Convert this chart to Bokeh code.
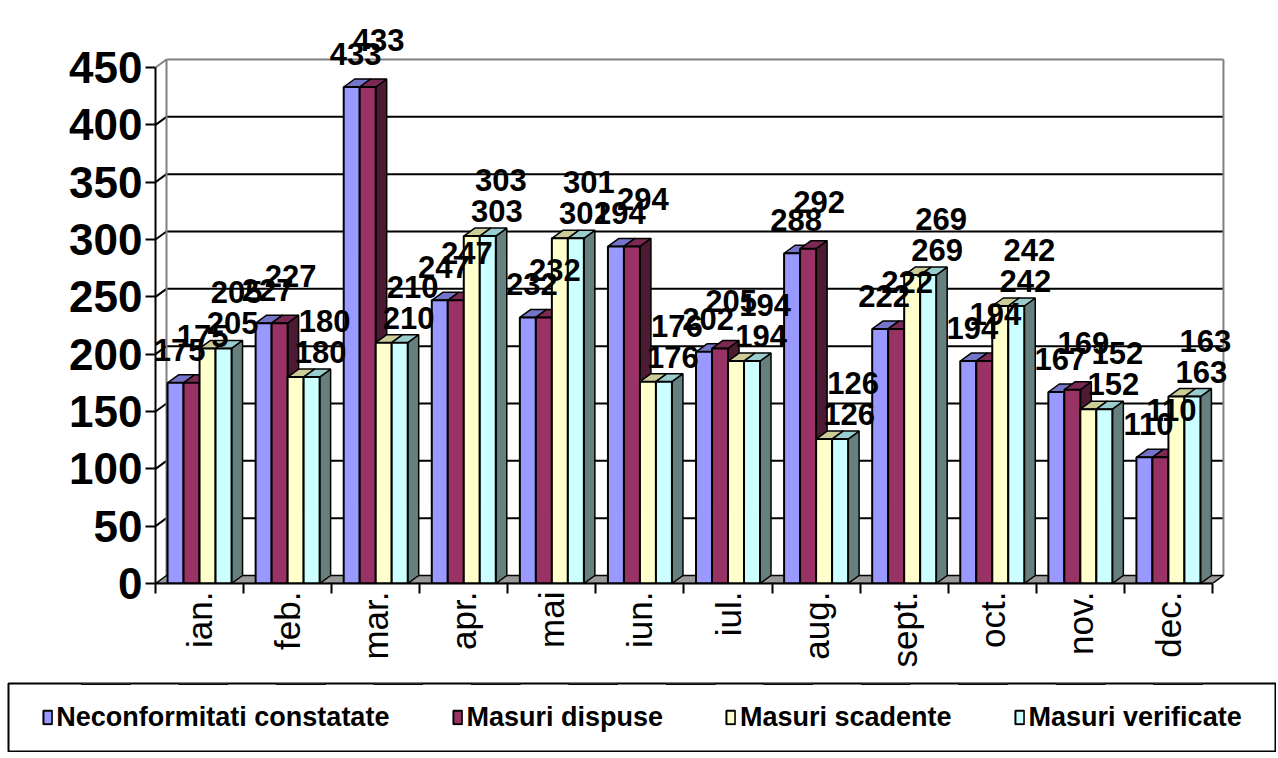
import numpy as np
from bokeh.plotting import figure
from bokeh.models import Range1d, LinearAxis, FixedTicker, Legend, LegendItem
from bokeh.embed import file_html
from bokeh.resources import INLINE
from bokeh.core.properties import value

# ---------------- data ----------------
months = ["ian.", "feb.", "mar.", "apr.", "mai", "iun.", "iul.", "aug.",
          "sept.", "oct.", "nov.", "dec."]
series_names = ["Neconformitati constatate", "Masuri dispuse",
                "Masuri scadente", "Masuri verificate"]
neconformitati_constatate = [175, 227, 433, 247, 232, 294, 202, 288, 222, 194, 167, 110]
masuri_dispuse = [175, 227, 433, 247, 232, 294, 205, 292, 222, 194, 169, 110]
masuri_scadente = [205, 180, 210, 303, 301, 176, 194, 126, 269, 242, 152, 163]
masuri_verificate = [205, 180, 210, 303, 301, 176, 194, 126, 269, 242, 152, 163]
y_ticks = [0, 50, 100, 150, 200, 250, 300, 350, 400, 450]

series_values = [neconformitati_constatate, masuri_dispuse,
                 masuri_scadente, masuri_verificate]

# ---------------- styles ----------------
front_colors = ["#9999FF", "#993366", "#FFFFCC", "#CCFFFF"]
top_colors = ["#7474C8", "#7A2952", "#CCCC99", "#99CCCC"]
side_colors = ["#55558F", "#4D1A33", "#99997A", "#668080"]
label_dx_px = [4, 11, 25, 13]      # label shift right of bar centre (px)
label_dy_px = [33, 47, 25, 56]     # label shift above bar top (px)
FONT = "Liberation Sans"

CAT_PX = 88.08            # pixels per month
PX_PER_UNIT = 516.0 / 450.0
DEPTH_X_PX = 11
DEPTH_Y_PX = 8
BAR_PX = 16

n_cat = len(months)
W, H = 1276, 682
ML, MT, MR = 155, 8, 0
FRAME_W = W - ML - MR
FRAME_H = 575                      # frame from y=8 down to the zero line
MB = H - MT - FRAME_H

x_end = FRAME_W / CAT_PX
y_end = FRAME_H / PX_PER_UNIT
dx = DEPTH_X_PX / CAT_PX
dy = DEPTH_Y_PX / PX_PER_UNIT
bw = BAR_PX / CAT_PX
start = (1 - len(series_values) * bw) / 2
ymax = max(y_ticks)

p = figure(width=W, height=H, output_backend="svg", toolbar_location=None,
           x_range=Range1d(0, x_end), y_range=Range1d(0, y_end),
           x_axis_type=None, y_axis_type=None,
           min_border_left=ML, min_border_right=MR,
           min_border_top=MT, min_border_bottom=MB)
p.outline_line_color = None
p.background_fill_color = "white"
p.border_fill_color = "white"

# ---------------- walls & gridlines ----------------
inner = [t for t in y_ticks if 0 < t < ymax]
p.segment(x0=[0] * len(inner), y0=inner, x1=[dx] * len(inner),
          y1=[t + dy for t in inner], line_color="black", line_width=2)
p.segment(x0=[dx] * len(inner), y0=[t + dy for t in inner],
          x1=[n_cat + dx] * len(inner), y1=[t + dy for t in inner],
          line_color="black", line_width=2)
# wall frame (grey)
p.segment(x0=[0, dx, dx, n_cat + dx], y0=[ymax, ymax + dy, dy, dy],
          x1=[dx, n_cat + dx, dx, n_cat + dx],
          y1=[ymax + dy, ymax + dy, ymax + dy, ymax + dy],
          line_color="#808080", line_width=2)
# floor
p.patch(x=[0, n_cat, n_cat + dx, dx], y=[0, 0, dy, dy],
        fill_color="#999999", line_color="black", line_width=1.5)

# ---------------- bars (pseudo-3D) ----------------
for s, vals in enumerate(series_values):
    v = np.array(vals, dtype=float)
    m = np.arange(n_cat)
    x0 = m + start + s * bw
    x1 = x0 + bw
    side_xs = [[a, a + dx, a + dx, a] for a in x1]
    side_ys = [[0, dy, h + dy, h] for h in v]
    p.patches(xs=side_xs, ys=side_ys, fill_color=side_colors[s],
              line_color="black", line_width=1.5)
    top_xs = [[a, a + dx, b + dx, b] for a, b in zip(x0, x1)]
    top_ys = [[h, h + dy, h + dy, h] for h in v]
    p.patches(xs=top_xs, ys=top_ys, fill_color=top_colors[s],
              line_color="black", line_width=1.5)
    p.quad(left=x0, right=x1, bottom=0, top=v, fill_color=front_colors[s],
           line_color="black", line_width=2)

# ---------------- data labels ----------------
for s, vals in enumerate(series_values):
    v = np.array(vals, dtype=float)
    m = np.arange(n_cat)
    cx = m + start + (s + 0.5) * bw + label_dx_px[s] / CAT_PX
    cy = v + label_dy_px[s] / PX_PER_UNIT
    p.text(x=cx, y=cy, text=[str(int(a)) for a in vals],
           text_font=value(FONT), text_font_style="bold",
           text_font_size="31px", text_align="center",
           text_baseline="middle", text_color="black")

# ---------------- axes ----------------
yax = LinearAxis(ticker=FixedTicker(ticks=y_ticks))
yax.bounds = (0, ymax)
yax.axis_line_color = "black"
yax.axis_line_width = 2
yax.major_tick_in = 0
yax.major_tick_out = 10
yax.major_tick_line_width = 2
yax.major_tick_line_color = "black"
yax.minor_tick_line_color = None
yax.major_label_text_font = FONT
yax.major_label_text_font_style = "bold"
yax.major_label_text_font_size = "44px"
yax.major_label_text_color = "black"
yax.major_label_standoff = 3
p.add_layout(yax, "left")

centers = [i + 0.5 for i in range(n_cat)]
bounds_ticks = list(range(n_cat + 1))
xax = LinearAxis(ticker=FixedTicker(ticks=centers, minor_ticks=bounds_ticks))
xax.bounds = (0, n_cat)
xax.major_label_overrides = {c: name for c, name in zip(centers, months)}
xax.axis_line_color = "black"
xax.axis_line_width = 2
xax.major_tick_line_color = None
xax.major_tick_in = 0
xax.major_tick_out = 0
xax.minor_tick_in = 0
xax.minor_tick_out = 10
xax.minor_tick_line_color = "black"
xax.minor_tick_line_width = 2
xax.major_label_orientation = np.pi / 2
xax.major_label_text_font = FONT
xax.major_label_text_font_size = "35px"
xax.major_label_text_color = "black"
xax.major_label_standoff = -2
p.add_layout(xax, "below")

# ---------------- legend box ----------------
lg = figure(width=W, height=70, output_backend="svg", toolbar_location=None,
            x_axis_type=None, y_axis_type=None,
            x_range=Range1d(-1, n_cat), y_range=Range1d(-2, -1),
            min_border_left=8, min_border_right=1,
            min_border_top=1, min_border_bottom=1)
lg.outline_line_color = "black"
lg.outline_line_width = 2
lg.background_fill_color = "white"
lg.border_fill_color = "white"
items = []
for s, name in enumerate(series_names):
    # proxies for the legend keys; data lie outside the visible range
    rr = lg.vbar(x=list(range(n_cat)), top=series_values[s], width=0.5,
                 fill_color=front_colors[s], line_color="black", line_width=2)
    items.append(LegendItem(label=name, renderers=[rr]))
legend = Legend(items=items, orientation="horizontal", location="center",
                border_line_color=None, background_fill_alpha=0,
                spacing=62, label_standoff=4, glyph_width=11, glyph_height=17,
                padding=0, margin=0,
                label_text_font=FONT, label_text_font_style="bold",
                label_text_font_size="27px", label_text_color="black")
lg.add_layout(legend, "center")

open("out.html", "w").write(file_html([p, lg], INLINE))
